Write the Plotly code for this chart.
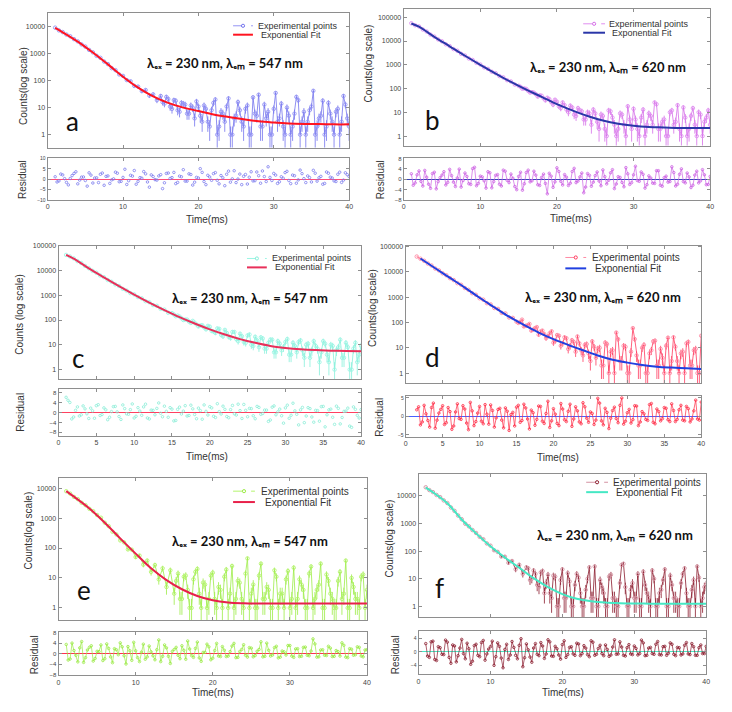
import plotly.graph_objects as go

W, H = 732, 712

# ---------------- data ----------------
TIME = [1.0, 1.5, 2.0, 2.5, 3.0, 3.5, 4.0, 4.5, 5.0, 5.5,
        6.0, 6.5, 7.0, 7.5, 8.0, 8.5, 9.0, 9.5, 10.0, 10.5,
        11.0, 11.5, 12.0, 12.5, 13.0, 13.5, 14.0, 14.5, 15.0, 15.5,
        16.0, 16.5, 17.0, 17.5, 18.0, 18.5, 19.0, 19.5, 20.0, 20.5,
        21.0, 21.5, 22.0, 22.5, 23.0, 23.5, 24.0, 24.5, 25.0, 25.5,
        26.0, 26.5, 27.0, 27.5, 28.0, 28.5, 29.0, 29.5, 30.0, 30.5,
        31.0, 31.5, 32.0, 32.5, 33.0, 33.5, 34.0, 34.5, 35.0, 35.5,
        36.0, 36.5, 37.0, 37.5, 38.0, 38.5, 39.0, 39.5, 40.0]

HALF_TIME = [1.25, 1.75, 2.25, 2.75, 3.25, 3.75, 4.25, 4.75, 5.25, 5.75,
             6.25, 6.75, 7.25, 7.75, 8.25, 8.75, 9.25, 9.75, 10.25, 10.75,
             11.25, 11.75, 12.25, 12.75, 13.25, 13.75, 14.25, 14.75, 15.25, 15.75,
             16.25, 16.75, 17.25, 17.75, 18.25, 18.75, 19.25, 19.75, 20.25, 20.75,
             21.25, 21.75, 22.25, 22.75, 23.25, 23.75, 24.25, 24.75, 25.25, 25.75,
             26.25, 26.75, 27.25, 27.75, 28.25, 28.75, 29.25, 29.75, 30.25, 30.75,
             31.25, 31.75, 32.25, 32.75, 33.25, 33.75, 34.25, 34.75, 35.25, 35.75,
             36.25, 36.75, 37.25, 37.75, 38.25, 38.75, 39.25, 39.75]

TAIL_TIME = HALF_TIME[28:]  # 15.25 ... 39.75

FIT_TIME = [1, 2, 4, 6, 8, 10, 12, 14, 16, 18, 20, 22, 24, 26, 28, 30, 32, 34, 36, 38, 40]

A_COUNTS = [9200, 7300, 6300, 5100, 4400, 3450, 2850, 2200, 1830, 1380,
            1120, 830, 700, 510, 410, 290, 245, 170, 150, 105,
            95, 64, 60, 41, 45, 28, 31, 19, 27, 14,
            21, 9, 18, 7, 14, 6, 12, 4, 11, 3,
            9, 2, 15, 1, 7, 3, 22, 1, 5, 8,
            2, 12, 1, 6, 30, 2, 4, 1, 9, 3,
            14, 1, 5, 2, 25, 1, 7, 3, 11, 1,
            4, 18, 2, 6, 1, 9, 3, 13, 2]
A_TAIL = [16, 25, 11, 19, 8, 15, 13, 6, 10, 17,
          5, 12, 3, 8, 20, 2, 6, 11, 1, 4,
          16, 3, 9, 1, 24, 5, 2, 13, 7, 1,
          35, 4, 2, 10, 1, 6, 19, 3, 1, 8,
          42, 2, 5, 1, 15, 3, 7, 1, 27, 4]
A_FIT = [9000, 6200, 2800, 1100, 400, 140, 55, 26, 15, 10, 7.5, 5.6, 4.5, 3.7, 3.1, 2.8, 2.6, 2.5, 2.45, 2.4, 2.4]
A_RESID = [1.2, -0.8, 2.1, -1.5, 0.4, 2.8, -2.2, 1.0, -0.6, 3.1,
           -1.8, 0.7, 2.4, -2.9, 1.6, -0.3, 3.4, -1.2, 0.9, -2.5,
           1.9, 4.2, -1.0, 0.5, 2.6, -3.8, 1.3, -0.4, 2.2, -1.7,
           3.0, 0.8, -2.1, 1.5, 4.6, -0.9, 2.3, -1.4, 0.6, 3.3,
           -2.6, 1.1, 2.7, -0.5, 1.8, -3.1, 3.9, 0.2, -1.6, 2.5,
           1.4, -2.3, 3.6, -0.7, 1.7, 4.0, -1.1, 0.9, 2.8, -2.0,
           1.2, 3.2, -0.6, 2.0, -1.9, 4.4, 0.3, 1.6, -1.3, 2.9,
           0.7, -2.4, 3.5, 1.0, -0.8, 2.4, -1.5, 3.1, 1.3]
A_RESID_HALF = [-1.3, 2.5, 0.3, -2.7, 1.8, 3.6, -0.4, 1.1, -3.3, 2.0,
                0.6, -1.6, 3.0, 1.4, -2.0, 0.2, 2.9, -1.0, 4.8, -0.7,
                1.5, -2.4, 0.8, 3.7, -1.3, 2.1, -0.2, 1.6, -4.5, 2.8,
                0.4, 3.3, -1.5, 1.2, -0.9, 2.6, -2.8, 0.9, 5.1, -1.1,
                1.9, -0.5, 3.2, -2.2, 0.7, 2.4, -1.4, 4.1, 0.1, -2.6,
                2.3, 1.0, -0.8, 3.5, -1.9, 1.3, 6.0, -0.6, 2.0, -1.2,
                0.5, 3.8, -2.1, 1.7, -0.3, 2.7, -1.6, 0.8, 4.3, -0.9,
                1.4, -2.0, 2.9, 0.6, -1.1, 3.4, -0.4, 2.2]

B_COUNTS = [56000, 46000, 41000, 30500, 25000, 18600, 15400, 11700, 9700, 7300,
            6100, 4600, 3900, 2900, 2450, 1850, 1590, 1210, 1030, 780,
            670, 510, 445, 335, 295, 225, 198, 148, 131, 98,
            96, 68, 67, 46, 50, 32, 36, 21, 28, 15,
            20, 10, 16, 7, 12, 5, 10, 3, 9, 2,
            7, 1, 11, 3, 2, 8, 1, 5, 14, 2,
            6, 1, 9, 3, 22, 2, 5, 1, 12, 4,
            2, 16, 1, 7, 3, 10, 1, 6, 3]
B_TAIL = [118, 102, 80, 71, 58, 52, 39, 41, 27, 34,
          18, 26, 13, 19, 8, 15, 11, 5, 9, 13,
          4, 8, 2, 12, 6, 1, 9, 3, 18, 2,
          5, 1, 13, 3, 7, 26, 2, 4, 1, 10,
          3, 20, 1, 6, 2, 15, 1, 8, 4, 12]
B_FIT = [55000, 40000, 15000, 6000, 2400, 1000, 430, 190, 90, 45, 22, 12, 7, 4.5, 3.3, 2.7, 2.4, 2.3, 2.2, 2.2, 2.2]
B_RESID = [2.1, -1.4, 3.2, -2.6, 0.8, -3.5, 2.7, -0.9, 1.6, -2.2,
           3.8, -1.1, 0.5, -3.0, 2.4, -1.7, 4.1, -2.5, 1.2, -0.6,
           2.9, -3.3, 1.5, -1.9, 3.5, -0.4, 2.0, -2.8, 1.1, -4.2,
           2.6, -1.0, 3.1, -2.1, 0.7, -1.6, 2.3, -3.1, 4.4, -0.8,
           1.8, -2.4, 3.0, -1.3, 0.9, -5.2, 2.2, -2.7, 1.4, -0.7,
           3.6, -1.8, 2.5, -3.6, 1.0, -1.2, 4.5, -2.0, 1.7, -0.5,
           2.8, -3.4, 1.3, -1.5, 3.3, -2.3, 0.6, -1.1, 4.8, -2.6,
           1.9, -0.9, 2.4, -3.2, 1.6, -1.4, 3.7, -2.1, 1.1]
B_RESID_HALF = [-2.3, 1.7, -0.8, 3.4, -1.9, 2.2, -3.7, 0.6, 2.9, -1.2,
                1.4, -2.8, 3.9, -0.5, 1.1, -2.0, 4.6, -1.6, 0.9, -3.4,
                2.5, -0.9, 1.8, -2.6, 3.1, -1.3, 0.4, -4.0, 2.7, -1.7,
                3.5, -0.6, 1.6, -2.4, 2.0, -5.6, 1.2, -1.0, 3.0, -2.2,
                0.8, -1.5, 4.2, -0.7, 2.4, -3.0, 1.5, -1.1, 2.8, -2.5,
                1.0, -0.4, 3.7, -1.8, 0.7, -2.9, 2.1, -1.3, 5.0, -0.8,
                1.9, -2.1, 0.5, -1.6, 3.3, -2.7, 1.2, -0.9, 2.6, -1.9,
                4.0, -1.4, 0.9, -2.3, 3.1, -0.6, 1.7, -2.0]

C_COUNTS = [42000, 36500, 30500, 23600, 19800, 15200, 12200, 9600, 8050, 6250,
            5300, 4100, 3480, 2730, 2350, 1800, 1540, 1210, 1080, 840,
            745, 575, 520, 400, 372, 282, 262, 196, 190, 142,
            138, 100, 104, 76, 78, 55, 62, 42, 54, 34,
            46, 25, 40, 21, 33, 17, 28, 13, 24, 10,
            21, 8, 18, 7, 16, 5, 14, 6, 13, 4,
            12, 5, 15, 3, 11, 6, 9, 2, 14, 4,
            10, 1, 8, 3, 12, 1, 7, 2, 9]
C_TAIL = [168, 150, 118, 104, 86, 92, 66, 60, 50, 58,
          36, 30, 44, 22, 30, 19, 33, 14, 22, 12,
          26, 9, 15, 20, 7, 12, 16, 5, 11, 8,
          17, 4, 9, 13, 6, 10, 3, 14, 7, 5,
          11, 2, 9, 6, 16, 3, 8, 1, 12, 4]
C_FIT = [42000, 30000, 12000, 5200, 2300, 1050, 500, 250, 130, 72, 42, 26, 17, 12, 9, 7.5, 6.6, 6.1, 5.8, 5.6, 5.5]
C_RESID = [6.2, 4.1, -1.8, 2.3, -0.9, 1.5, -2.4, 0.7, 2.8, -1.2,
           1.9, -2.9, 0.4, 2.5, -1.6, 3.1, -0.5, 1.2, -2.2, 2.0,
           -1.1, 3.4, -2.6, 0.9, 1.7, -0.3, 2.6, -1.9, 1.4, -3.2,
           2.2, 0.6, -1.4, 3.0, -0.8, 1.8, -2.7, 0.5, 2.4, -1.5,
           3.6, -0.6, 1.3, -2.1, 2.9, -1.0, 0.8, 3.3, -1.7, 1.6,
           -2.5, 2.1, -0.4, 1.0, -3.0, 2.7, 0.3, -1.3, 1.9, -2.3,
           3.8, -0.7, 1.1, -4.1, 2.0, -1.8, 0.9, -3.5, 2.5, -0.9,
           1.4, -4.8, 1.7, -2.0, 0.6, -5.5, 2.3, -1.1, 1.2]
C_RESID_HALF = [5.0, -2.6, 0.9, -1.4, 2.7, -0.5, 1.8, -2.3, 3.2, -0.8,
                1.1, -1.9, 2.4, 0.3, -2.8, 1.6, -0.7, 3.5, -1.5, 0.6,
                2.3, -2.2, 1.0, -0.9, 3.9, -1.7, 0.5, 2.0, -3.4, 1.3,
                -0.6, 2.8, -1.2, 1.5, -2.5, 0.8, 3.1, -1.0, 1.9, -2.0,
                0.4, 2.6, -1.6, 1.2, -0.5, 3.4, -2.4, 0.9, 1.7, -1.3,
                2.5, -0.7, 1.0, -3.6, 2.2, -0.9, 1.4, -4.3, 3.0, -1.1,
                0.7, -5.0, 2.1, -1.4, 1.6, -3.9, 0.8, 2.4, -5.8, 1.1,
                -1.9, 2.6, -4.6, 0.5, 1.8, -6.0, 1.3, -2.2]

D_COUNTS = [None, 40500, 33200, 27600, 21500, 17900, 13600, 11500, 8800, 7400,
            5650, 4750, 3600, 3100, 2320, 1960, 1440, 1250, 910, 800,
            580, 520, 375, 345, 240, 228, 158, 152, 108, 105,
            70, 78, 48, 60, 33, 48, 24, 38, 16, 32,
            12, 26, 9, 20, 7, 15, 5, 14, 3, 11,
            9, 2, 16, 1, 8, 40, 3, 12, 1, 7,
            22, 2, 10, 1, 6, 18, 2, 9, 1, 25,
            3, 11, 1, 7, 15, 2, 8, 1, 30]
D_TAIL = [96, 130, 74, 88, 52, 66, 44, 35, 29, 45,
          19, 30, 15, 24, 12, 17, 28, 8, 13, 6,
          18, 4, 10, 2, 14, 7, 1, 22, 3, 11,
          1, 60, 5, 2, 13, 1, 8, 19, 2, 4,
          12, 1, 26, 3, 6, 1, 17, 2, 9, 1]
D_FIT = [None, 34000, 14000, 5800, 2400, 950, 400, 170, 80, 40, 22, 13, 8, 5, 3.4, 2.6, 2.1, 1.8, 1.65, 1.55, 1.45]
D_RESID = [None, 1.8, -2.3, 3.0, -1.1, 2.4, -3.2, 0.9, 2.9, -1.7,
           1.3, -2.6, 3.4, -0.8, 2.0, -3.6, 1.5, -1.4, 2.7, -2.0,
           0.6, 3.1, -2.9, 1.9, -1.0, 2.3, -3.8, 1.1, 2.5, -1.6,
           3.3, -0.7, 1.7, -2.4, 2.8, -1.3, 0.8, -3.0, 2.1, -1.9,
           3.5, -0.9, 1.4, -2.7, 2.6, -1.5, 3.7, -0.5, 1.2, -2.2,
           4.9, -1.2, 2.2, -3.3, 1.6, -0.6, 3.0, -2.1, 1.0, -1.8,
           2.9, -2.5, 1.3, -0.8, 3.2, -1.6, 2.0, -1.2, 2.4, -0.9,
           3.4, -1.4, 1.8, -1.0, 2.7, -1.5, 1.5, -0.7, 3.9]
D_RESID_HALF = [None, 2.6, -1.5, 0.7, -2.9, 3.6, -1.0, 1.9, -2.2, 2.4,
                -3.5, 1.2, -0.6, 2.9, -1.8, 3.8, -2.5, 0.9, -1.3, 3.2,
                -2.1, 1.6, -0.4, 2.2, -3.1, 1.4, 0.5, -2.6, 3.0, -1.1,
                2.3, -3.4, 1.0, -0.8, 2.7, -1.9, 4.1, -1.2, 0.6, -2.5,
                2.0, -1.4, 3.3, -0.7, 1.5, -2.0, 2.6, -1.6, 0.8, -1.0,
                3.6, -2.3, 1.1, -0.5, 2.5, -1.7, 5.0, -1.3, 1.9, -0.9,
                2.8, -1.5, 0.7, -1.1, 3.5, -2.0, 1.3, -0.6, 2.2, -1.4,
                1.6, -0.8, 3.0, -1.2, 2.1, -0.7, 4.4, -1.0]

E_COUNTS = [7900, 6600, 5100, 4300, 3250, 2700, 2050, 1700, 1270, 1030,
            700, 540, 350, 285, 180, 155, 90, 88, 50, 56,
            28, 38, 16, 27, 9, 21, 5, 18, 3, 14,
            2, 12, 1, 9, 20, 1, 6, 2, 15, 1,
            4, 11, 1, 25, 2, 7, 1, 45, 3, 1,
            12, 2, 5, 1, 18, 1, 3, 9, 1, 22,
            2, 6, 1, 14, 1, 4, 30, 1, 8, 2,
            1, 16, 3, 1, 10, 2, 1, 13, 4]
E_TAIL = [8, 2, 11, 4, 1, 16, 3, 7, 1, 12,
          2, 5, 1, 19, 3, 1, 8, 2, 14, 1,
          6, 1, 30, 2, 4, 1, 11, 3, 1, 17,
          2, 1, 9, 4, 1, 24, 2, 6, 1, 13,
          3, 1, 8, 2, 38, 1, 5, 2, 11, 1]
E_FIT = [8000, 5200, 2100, 700, 210, 65, 21, 8.5, 4.2, 2.5, 1.8, 1.52, 1.43, 1.4, 1.4, 1.4, 1.4, 1.4, 1.4, 1.4, 1.4]
E_RESID = [3.5, -2.0, 1.2, -3.1, 4.6, -1.5, 2.4, -2.8, 0.9, 3.3,
           -1.9, 2.0, -3.4, 1.5, 4.1, -0.8, 2.7, -2.5, 1.1, -3.0,
           3.6, -1.2, 0.7, -2.3, 5.2, -1.0, 2.2, -3.7, 1.6, -0.6,
           3.0, -2.1, 1.8, -1.4, 4.4, -2.9, 0.5, 2.6, -1.7, 3.9,
           -1.1, 1.3, -0.9, 2.9, -1.5, 0.8, 3.4, -1.3, 2.1, -0.7,
           1.6, -1.2, 4.0, -0.9, 2.3, -1.6, 1.0, -0.5, 3.1, -1.4,
           1.9, -1.0, 2.5, -0.8, 5.6, -1.3, 1.4, -0.6, 2.8, -1.1,
           1.2, -0.9, 3.2, -1.5, 1.7, -0.4, 2.4, -1.2, 1.5]
E_RESID_HALF = [-2.4, 4.0, -0.6, 2.2, -3.3, 1.4, 3.0, -1.8, 0.8, -2.6,
                3.7, -1.2, 1.9, -0.4, 2.6, -3.9, 1.1, 4.3, -1.5, 0.6,
                -2.1, 2.9, -0.8, 1.5, -3.0, 3.3, -1.0, 0.9, 2.4, -1.9,
                1.3, 4.8, -0.7, 2.0, -1.6, 0.5, 3.6, -2.3, 1.2, -0.9,
                2.7, -1.1, 0.8, 3.9, -1.4, 1.6, -0.6, 2.3, -1.2, 0.9,
                4.5, -1.0, 1.3, -0.5, 2.8, -1.3, 0.7, 3.1, -0.9, 1.8,
                -1.1, 2.4, -0.6, 1.0, 3.7, -1.2, 1.5, -0.7, 2.1, -1.0,
                0.8, 4.1, -1.3, 1.9, -0.6, 2.6, -0.9, 1.4]

F_COUNTS = [20500, 16200, 13700, 10800, 9000, 6850, 5500, 3800, 2870, 1950,
            1430, 980, 790, 580, 455, 330, 270, 190, 158, 108,
            94, 64, 63, 38, 44, 22, 32, 15, 26, 9,
            20, 6, 17, 3, 14, 2, 12, 1, 22, 2,
            8, 1, 15, 3, 1, 10, 2, 28, 1, 5,
            1, 12, 2, 1, 7, 35, 1, 4, 2, 15,
            1, 6, 2, 20, 1, 3, 9, 1, 13, 2,
            1, 7, 24, 1, 4, 1, 11, 2, 6]
F_TAIL = [24, 10, 15, 5, 19, 7, 3, 13, 1, 9,
          2, 16, 1, 6, 11, 1, 4, 26, 2, 1,
          9, 3, 1, 14, 2, 1, 32, 5, 1, 7,
          2, 1, 18, 3, 1, 10, 1, 4, 22, 1,
          6, 2, 1, 15, 3, 1, 9, 28, 1, 5]
F_FIT = [20000, 13500, 5400, 1400, 440, 150, 59, 25, 10.5, 5, 2.8, 1.9, 1.55, 1.38, 1.31, 1.27, 1.26, 1.25, 1.25, 1.25, 1.25]
F_RESID = [2.4, -1.6, 3.1, -2.5, 1.2, -0.8, 2.8, -3.3, 1.7, -1.1,
           3.6, -2.0, 0.9, -2.7, 2.2, -1.4, 3.3, -0.6, 1.5, -3.9,
           2.6, -1.8, 0.7, -2.2, 3.0, -1.0, 1.9, -4.3, 2.3, -1.5,
           1.1, -0.7, 2.7, -1.9, 3.5, -1.2, 1.6, -0.9, 2.1, -1.6,
           1.3, -0.6, 2.5, -1.1, 1.8, -0.8, 3.2, -1.0, 1.0, -0.5,
           2.0, -1.3, 1.4, -0.7, 2.9, -1.0, 1.2, -0.6, 1.7, -0.9,
           3.4, -1.1, 1.1, -0.5, 2.2, -0.8, 1.5, -1.0, 2.6, -0.7,
           1.3, -0.9, 1.9, -0.6, 2.4, -1.0, 1.2, -0.5, 1.6]
F_RESID_HALF = [-1.2, 2.9, -2.2, 1.5, -0.7, 3.4, -1.6, 2.0, -2.9, 1.1,
                -0.5, 2.5, -3.6, 1.8, -1.0, 2.7, -2.4, 0.8, 3.1, -1.4,
                1.6, -4.6, 2.2, -0.9, 1.3, -2.0, 3.8, -1.7, 0.6, -3.0,
                2.4, -1.1, 1.7, -0.6, 2.9, -1.3, 0.9, -2.1, 3.2, -0.8,
                1.5, -1.0, 2.3, -0.5, 1.1, -1.4, 2.8, -0.7, 1.9, -1.1,
                0.7, -0.9, 3.5, -0.6, 1.4, -1.2, 2.1, -0.8, 1.0, -0.5,
                2.6, -1.0, 1.3, -0.7, 3.0, -0.9, 1.6, -0.4, 2.2, -1.1,
                1.2, -0.6, 2.7, -0.8, 1.5, -1.0, 2.0, -0.5]

PANEL_LABELS = ["a", "b", "c", "d", "e", "f"]
EXCITATION_NM = 230
EMISSION_NM = [547, 620, 547, 620, 547, 620]
LOG_TICKS = [1, 10, 100, 1000, 10000, 100000]
LOG_TICK_TEXT = ["1", "10", "100", "1000", "10000", "100000"]
LEGEND_TEXT = ["Experimental points", "Exponential Fit"]
X_TITLE = "Time(ms)"
RES_TITLE = "Residual"
Y_TITLES = ["Counts(log scale)", "Counts(log scale)", "Counts (log scale)",
            "Counts(log scale)", "Counts(log scale)", "Counts(log scale)"]

COUNTS = [A_COUNTS, B_COUNTS, C_COUNTS, D_COUNTS, E_COUNTS, F_COUNTS]
TAILS = [A_TAIL, B_TAIL, C_TAIL, D_TAIL, E_TAIL, F_TAIL]
FITS = [A_FIT, B_FIT, C_FIT, D_FIT, E_FIT, F_FIT]
RESIDS = [A_RESID, B_RESID, C_RESID, D_RESID, E_RESID, F_RESID]
RESIDS_HALF = [A_RESID_HALF, B_RESID_HALF, C_RESID_HALF, D_RESID_HALF, E_RESID_HALF, F_RESID_HALF]
for arr in COUNTS + RESIDS:
    assert len(arr) == len(TIME), len(arr)
for arr in RESIDS_HALF:
    assert len(arr) == len(HALF_TIME), len(arr)
for arr in TAILS:
    assert len(arr) == len(TAIL_TIME), len(arr)
for arr in FITS:
    assert len(arr) == len(FIT_TIME), len(arr)


def merged(t1, v1, t2, v2):
    pairs = sorted(zip(list(t1) + list(t2), list(v1) + list(v2)), key=lambda p: p[0])
    return [p[0] for p in pairs], [p[1] for p in pairs]


# ---------------- styles / positions (pixels) ----------------
STYLE = [
    dict(x=(46, 350), dec=(9, 145), res=(156, 198), ylog=(-0.48, 4.51), nlog=5,
         yres=(-10, 10), rticks=[-10, -5, 0, 5, 10], rfont=5, xstep=10,
         exp_line="#7474ee", exp_marker="#9494f4", res_color="#7a7aee", fit="#ff1420", zero="#ff4d7a",
         res_mode="markers", letter=(71, 118), lam=(225, 60), ytitle=(21, 83), rtitle=(20, 177),
         xtitle=(207, 218), leg=(233, 253, 22, 31, 256, 259), legfont=9),
    dict(x=(405, 714), dec=(5, 143), res=(156, 198), ylog=(-0.40, 5.35), nlog=6,
         yres=(-8, 8), rticks=[-8, -4, 0, 4, 8], rfont=6, xstep=10,
         exp_line="#d56ee8", exp_marker="#e08ef0", res_color="#cc5ee2", fit="#2a36a8", zero="#3a44b8",
         res_mode="lines+markers", letter=(434, 117), lam=(611, 64), ytitle=(369, 60), rtitle=(381, 177),
         xtitle=(574, 217), leg=(586, 608, 20, 29, 610, 613), legfont=9),
    dict(x=(57, 362), dec=(244, 379), res=(389, 436), ylog=(-0.39, 5.0), nlog=6,
         yres=(-9.4, 9.5), rticks=[-8, -4, 0, 4, 8], rfont=6, xstep=5,
         exp_line="#86f0da", exp_marker="#9cf5e4", res_color="#86ecd6", fit="#e8305a", zero="#ff4060",
         res_mode="markers", letter=(77, 358), lam=(250, 297), ytitle=(18, 313), rtitle=(19, 412),
         xtitle=(207, 457), leg=(247, 267, 257, 266, 270, 273), legfont=9),
    dict(x=(407, 705), dec=(244, 383), res=(396, 437), ylog=(-0.40, 5.04), nlog=6,
         yres=(-5.5, 5.5), rticks=[-5, 0, 5], rfont=5, xstep=5,
         exp_line="#ff3a5e", exp_marker="#ff8aa4", res_color="#ff2a44", fit="#2040e0", zero="#4a60ff",
         res_mode="lines+markers", letter=(434, 357), lam=(606, 296), ytitle=(374, 307), rtitle=(381, 417),
         xtitle=(561, 458), leg=(568, 589, 256, 267, 593, 596), legfont=10),
    dict(x=(57, 368), dec=(479, 622), res=(634, 678), ylog=(-0.40, 4.33), nlog=5,
         yres=(-8.2, 8.3), rticks=[-8, -4, 0, 4, 8], rfont=6, xstep=10,
         exp_line="#9cec46", exp_marker="#b4f46c", res_color="#98ea40", fit="#e8204a", zero="#ff3050",
         res_mode="lines+markers", letter=(83, 592), lam=(250, 542), ytitle=(27, 532), rtitle=(33, 657),
         xtitle=(213, 695), leg=(233, 255, 492, 503, 259, 263), legfont=10),
    dict(x=(420, 710), dec=(475, 619), res=(633, 677), ylog=(-0.38, 4.78), nlog=5,
         yres=(-6.5, 6.1), rticks=[-4, 0, 4], rfont=5, xstep=10,
         exp_line="#8a1a2c", exp_marker="#d492a2", res_color="#8a1a2c", fit="#45e8c4", zero="#45e8c4",
         res_mode="lines+markers", letter=(441, 590), lam=(618, 536), ytitle=(391, 540), rtitle=(397, 657),
         xtitle=(566, 695), leg=(589, 611, 483, 493, 614, 617), legfont=10),
]

FRAME = "#8e8e8e"
TICKFONT = "Liberation Sans"


def fx(p):
    return p / W


def fy(p):
    return 1 - p / H


fig = go.Figure()
layout = dict(width=W, height=H, autosize=False, margin=dict(l=0, r=0, t=0, b=0),
              paper_bgcolor="white", plot_bgcolor="white", showlegend=False)
annotations = []
shapes = []

for i, st in enumerate(STYLE):
    nd, nr = 2 * i + 1, 2 * i + 2
    xd = "x" if nd == 1 else f"x{nd}"
    yd = "y" if nd == 1 else f"y{nd}"
    xr, yr = f"x{nr}", f"y{nr}"

    tx, counts = merged(TIME, COUNTS[i], TAIL_TIME, TAILS[i])
    err = [c ** 0.5 if c is not None else None for c in counts]
    rx, resid = merged(TIME, RESIDS[i], HALF_TIME, RESIDS_HALF[i])

    fig.add_trace(go.Scatter(
        x=tx, y=counts, xaxis=xd, yaxis=yd, mode="lines+markers",
        line=dict(color=st["exp_line"], width=0.8),
        marker=dict(symbol="circle-open", size=3.5, color=st["exp_marker"], line=dict(width=0.9)),
        error_y=dict(type="data", array=err, color=st["exp_line"], thickness=0.8, width=0),
        name=LEGEND_TEXT[0]))
    fig.add_trace(go.Scatter(
        x=FIT_TIME, y=FITS[i], xaxis=xd, yaxis=yd, mode="lines",
        line=dict(color=st["fit"], width=2, shape="spline"), name=LEGEND_TEXT[1]))
    fig.add_trace(go.Scatter(
        x=rx, y=resid, xaxis=xr, yaxis=yr, mode=st["res_mode"],
        line=dict(color=st["res_color"], width=0.7),
        marker=dict(symbol="circle-open", size=2.5, color=st["res_color"], line=dict(width=0.8)),
        name=RES_TITLE))

    xticks = list(range(0, 41, st["xstep"]))
    base_ax = dict(showline=True, linecolor=FRAME, linewidth=1, mirror="ticks", ticks="inside",
                   ticklen=3, tickcolor=FRAME, showgrid=False, zeroline=False)
    layout["xaxis" if nd == 1 else f"xaxis{nd}"] = dict(
        base_ax, domain=[fx(st["x"][0]), fx(st["x"][1])], anchor=yd, range=[0, 40],
        tickvals=xticks, showticklabels=False)
    layout[f"yaxis{'' if nd == 1 else nd}"] = dict(
        base_ax, domain=[fy(st["dec"][1]), fy(st["dec"][0])], anchor=xd, type="log",
        range=list(st["ylog"]), tickvals=LOG_TICKS[:st["nlog"]], ticktext=LOG_TICK_TEXT[:st["nlog"]],
        tickfont=dict(family=TICKFONT, size=7, color="#444"))
    layout[f"xaxis{nr}"] = dict(
        base_ax, domain=[fx(st["x"][0]), fx(st["x"][1])], anchor=yr, range=[0, 40],
        tickvals=xticks, tickfont=dict(family=TICKFONT, size=7, color="#444"))
    layout[f"yaxis{nr}"] = dict(
        base_ax, domain=[fy(st["res"][1]), fy(st["res"][0])], anchor=xr, range=list(st["yres"]),
        tickvals=st["rticks"], tickfont=dict(family=TICKFONT, size=st["rfont"], color="#444"),
        zeroline=True, zerolinecolor=st["zero"], zerolinewidth=1.2)

    # panel letter
    annotations.append(dict(x=fx(st["letter"][0]), y=fy(st["letter"][1]), xref="paper", yref="paper",
                            text=PANEL_LABELS[i], showarrow=False, xanchor="center", yanchor="middle",
                            font=dict(family="Lato", size=26, color="#111")))
    # wavelength label (unicode subscripts)
    annotations.append(dict(
        x=fx(st["lam"][0]), y=fy(st["lam"][1]), xref="paper", yref="paper", showarrow=False,
        xanchor="center", yanchor="middle",
        text=f"<b>λₑₓ = {EXCITATION_NM} nm, λₑₘ = {EMISSION_NM[i]} nm</b>",
        font=dict(family="Lato", size=13, color="#111")))
    # axis titles
    annotations.append(dict(x=fx(st["ytitle"][0]), y=fy(st["ytitle"][1]), xref="paper", yref="paper",
                            text=Y_TITLES[i], showarrow=False, textangle=-90, xanchor="center",
                            yanchor="middle", font=dict(family=TICKFONT, size=10, color="#333")))
    annotations.append(dict(x=fx(st["rtitle"][0]), y=fy(st["rtitle"][1]), xref="paper", yref="paper",
                            text=RES_TITLE, showarrow=False, textangle=-90, xanchor="center",
                            yanchor="middle", font=dict(family=TICKFONT, size=10, color="#333")))
    annotations.append(dict(x=fx(st["xtitle"][0]), y=fy(st["xtitle"][1]), xref="paper", yref="paper",
                            text=X_TITLE, showarrow=False, xanchor="center", yanchor="middle",
                            font=dict(family=TICKFONT, size=10, color="#333")))
    # legend (custom, compact like the original)
    lx0, lx1, ly1, ly2, tx1, tx2 = st["leg"]
    shapes.append(dict(type="line", xref="paper", yref="paper", x0=fx(lx0), x1=fx(lx1), y0=fy(ly1),
                       y1=fy(ly1), line=dict(color=st["exp_marker"], width=1, dash="dash")))
    cx = (lx0 + lx1) / 2
    shapes.append(dict(type="circle", xref="paper", yref="paper", x0=fx(cx - 1.6), x1=fx(cx + 1.6),
                       y0=fy(ly1 + 1.6), y1=fy(ly1 - 1.6), line=dict(color=st["exp_line"], width=1)))
    shapes.append(dict(type="line", xref="paper", yref="paper", x0=fx(lx0), x1=fx(lx1), y0=fy(ly2),
                       y1=fy(ly2), line=dict(color=st["fit"], width=2)))
    annotations.append(dict(x=fx(tx1), y=fy(ly1), xref="paper", yref="paper", text=LEGEND_TEXT[0],
                            showarrow=False, xanchor="left", yanchor="middle",
                            font=dict(family=TICKFONT, size=st["legfont"], color="#333")))
    annotations.append(dict(x=fx(tx2), y=fy(ly2), xref="paper", yref="paper", text=LEGEND_TEXT[1],
                            showarrow=False, xanchor="left", yanchor="middle",
                            font=dict(family=TICKFONT, size=st["legfont"], color="#333")))

layout["annotations"] = annotations
layout["shapes"] = shapes
fig.update_layout(**layout)
# remove the browser's default 8px body margin so the 732x712 figure fills the window exactly
fig.write_html("out.html", config={"displayModeBar": False},
               post_script="document.body.style.margin='0';document.body.style.overflow='hidden';")
